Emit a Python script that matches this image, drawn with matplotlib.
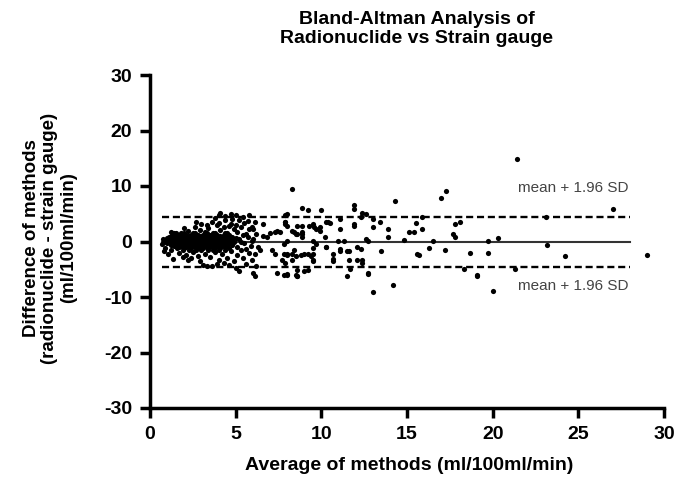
import matplotlib
matplotlib.use('Agg')
import matplotlib.pyplot as plt
import numpy as np

plt.rcParams['font.family'] = ['Liberation Sans', 'DejaVu Sans']
plt.rcParams['axes.unicode_minus'] = False

# dense cluster, rows of (difference, list of averages)
cluster_rows = [
    (1.5, [1.5, 2.0, 2.6, 3.3, 3.8, 4.4]),
    (1.2, [1.3, 1.7, 2.1, 2.4, 2.8, 3.1, 3.5, 3.9, 4.3, 4.6]),
    (1.05, [1.5, 1.9, 2.3, 2.6, 3.0, 3.3, 3.7, 4.1, 4.5]),
    (0.9, [1.1, 1.5, 1.9, 2.2, 2.6, 2.9, 3.3, 3.6, 4.0, 4.4, 4.8]),
    (0.75, [1.2, 1.6, 2.0, 2.4, 2.8, 3.1, 3.4, 3.8, 4.2, 4.6]),
    (0.6, [1.0, 1.4, 1.7, 2.0, 2.3, 2.7, 3.0, 3.2, 3.5, 3.8, 4.1, 4.5, 5.0]),
    (0.45, [1.1, 1.5, 1.8, 2.1, 2.5, 2.9, 3.3, 3.6, 3.9, 4.3, 4.8]),
    (0.3, [0.9, 1.2, 1.6, 1.9, 2.2, 2.5, 2.8, 3.1, 3.4, 3.7, 4.0, 4.3, 4.7]),
    (0.15, [1.0, 1.3, 1.8, 2.1, 2.4, 2.7, 3.0, 3.3, 3.6, 3.9, 4.2, 4.6]),
    (0.0, [0.8, 1.1, 1.4, 1.7, 2.0, 2.3, 2.6, 2.9, 3.2, 3.5, 3.8, 4.1, 4.4, 4.9, 5.3]),
    (-0.15, [1.2, 1.5, 1.8, 2.1, 2.4, 2.7, 3.0, 3.4, 3.7, 4.0, 4.3, 4.7]),
    (-0.3, [1.0, 1.3, 1.6, 1.9, 2.2, 2.5, 2.8, 3.0, 3.3, 3.6, 3.9, 4.2, 4.6]),
    (-0.45, [1.4, 1.7, 2.0, 2.3, 2.6, 2.9, 3.2, 3.5, 3.8, 4.1, 4.5]),
    (-0.6, [1.2, 1.5, 1.8, 2.1, 2.4, 2.7, 3.0, 3.3, 3.6, 3.9, 4.3, 4.8]),
    (-0.75, [1.6, 2.0, 2.3, 2.7, 3.1, 3.4, 3.7, 4.0, 4.4]),
    (-0.9, [1.4, 1.8, 2.2, 2.5, 2.9, 3.2, 3.5, 3.8, 4.2, 4.5]),
    (-1.05, [1.7, 2.1, 2.6, 3.0, 3.3, 3.6, 4.0, 4.4]),
    (-1.2, [1.6, 2.0, 2.4, 2.8, 3.1, 3.4, 3.8, 4.1, 4.6]),
    (-1.5, [1.9, 2.3, 2.7, 3.0, 3.4, 3.7, 4.0, 4.4]),
]

# remaining points (average, difference)
other_points = [
    (1.8, 1.6), (2.2, 1.9), (2.5, 1.5), (2.9, 2.1), (3.2, 1.7), (3.4, 2.4), (3.7, 1.6),
    (3.9, 2.9), (4.1, 2.0), (4.3, 2.6), (4.5, 1.5), (4.7, 3.1), (4.9, 2.2), (5.1, 1.8),
    (5.3, 2.7), (5.5, 3.4), (5.6, 1.4), (5.8, 2.3), (2.6, 2.7), (3.0, 3.2), (3.6, 3.6),
    (4.4, 3.8), (4.8, 4.0), (5.2, 3.9), (2.0, 2.4), (1.4, 1.5), (1.2, 1.8), (3.3, 2.9),
    (4.0, 3.3), (4.6, 2.8), (5.0, 3.0), (5.7, 3.7), (2.7, 3.5), (3.8, 4.2),
    (4.0, 4.8), (4.1, 5.2), (4.4, 4.6), (5.0, 4.8), (5.4, 4.4), (4.7, 5.0), (5.8, 4.7),
    (0.8, -1.8), (1.05, -2.2), (1.35, -3.1), (0.9, -1.2), (1.2, -1.5), (0.7, -0.5),
    (0.75, 0.5), (1.7, -2.0), (2.1, -2.4), (2.5, -1.9), (2.8, -2.6), (3.1, -4.3),
    (3.3, -4.5), (3.6, -4.5), (3.2, -2.2), (3.5, -2.8), (3.8, -1.9), (4.0, -3.3),
    (4.2, -2.3), (4.5, -2.9), (4.7, -1.8), (4.9, -3.6), (5.1, -2.4), (5.3, -1.6),
    (5.4, -3.0), (5.6, -4.0), (5.8, -2.0), (2.4, -3.0), (2.9, -3.5), (3.9, -4.0),
    (4.3, -3.8), (5.0, -4.7), (5.2, -5.3), (4.6, -4.3), (1.9, -2.8), (2.2, -3.4),
    (5.2, 0.4), (5.5, -0.3), (5.7, 0.8), (5.9, -0.8), (5.4, 1.1), (5.1, -1.0),
    (5.6, -1.3), (6.0, 0.5),
    (5.95, 2.7), (6.1, 3.5), (6.0, 2.2), (6.2, 1.4), (5.95, 0.1), (6.3, -1.0),
    (6.4, -1.6), (6.1, -2.2), (5.95, -3.4), (6.2, -4.5), (6.0, -5.7), (6.1, -6.2),
    (6.6, 3.1), (7.0, 1.5), (7.3, 1.7), (7.1, -1.6), (7.3, -2.2), (7.7, -3.4),
    (7.9, -3.9), (7.4, -5.7), (7.8, -6.1), (8.0, -6.1), (8.5, -6.1), (8.6, -6.2),
    (8.0, -2.2), (8.3, -2.2), (8.3, -3.4), (8.8, -2.5), (9.2, -2.2), (9.5, -3.6),
    (9.7, -0.4), (10.3, -1.0), (10.7, -2.2), (11.1, -1.3), (11.6, -1.8), (12.7, 0.1),
    (12.3, -1.3), (12.4, -3.9), (12.7, -5.7), (12.1, -3.4), (8.6, 2.8), (8.9, 1.7),
    (8.9, 1.4), (9.5, 3.1), (9.7, 2.2), (9.9, 2.6), (10.3, 3.6), (11.1, 2.2),
    (11.9, 3.1), (12.3, 4.5), (12.6, 4.9), (7.9, 3.5), (8.0, 4.9),
    (7.9, 3.1), (8.0, 2.8), (7.4, 1.9), (7.6, 1.7), (6.6, 1.0), (6.8, 0.8),
    (8.3, 1.9), (8.5, 1.4), (10.2, 0.8), (10.5, 3.3),
    (8.3, 9.4), (14.3, 7.3), (17.3, 9.1), (17.0, 7.8), (11.9, 6.6), (11.9, 5.9),
    (8.9, 6.1), (9.2, 5.7), (10.0, 5.7), (12.4, 5.2), (21.4, 14.9), (27.0, 5.9),
    (20.3, 0.6), (19.7, 0.1), (23.2, -0.6), (18.7, -2.0), (19.7, -2.0), (24.2, -2.7),
    (29.0, -2.4), (19.1, -6.2), (20.0, -8.9), (18.3, -5.0), (21.3, -5.0), (18.1, 3.6),
    (23.1, 4.4), (13.0, -9.1), (14.2, -7.8), (11.5, -6.2), (12.7, -5.8), (12.4, -3.4),
    (15.6, -2.3), (15.7, -2.5), (17.2, -1.6), (13.5, -1.8), (16.5, 0.1), (16.3, -1.1),
    (14.8, 0.3), (13.9, 0.8), (13.9, 2.2), (15.1, 1.7), (15.4, 1.7), (15.9, 2.2),
    (15.5, 3.3), (17.7, 1.3), (17.8, 0.8), (17.8, 3.1), (15.9, 4.5), (13.0, 4.0),
    (13.0, 2.6), (13.4, 3.6), (11.9, 2.8), (11.1, 4.0), (10.4, 3.5), (9.9, 1.9),
    (9.6, 2.6), (9.3, 2.8), (8.9, 2.8), (8.4, 1.7), (8.6, 1.4), (8.9, 0.8),
    (7.9, 3.6), (7.9, 4.7), (7.8, -0.4), (8.0, 0.1), (9.5, 0.1), (11.0, 0.1),
    (11.3, 0.1), (12.1, -1.0), (12.6, 0.5), (10.3, -1.0), (11.1, -1.8), (11.5, -1.8),
    (10.7, -3.1), (10.7, -3.6), (11.6, -3.3), (9.5, -2.2), (9.5, -1.1), (9.4, -2.7),
    (9.5, -3.4), (9.0, -2.2), (8.4, -1.6), (8.5, -2.7), (7.8, -2.2), (8.0, -2.5),
    (8.6, -5.1), (9.2, -5.1), (9.0, -5.4), (8.0, -5.8), (8.6, -6.2), (11.7, -4.9),
    (19.1, -6.0),
]

mean_diff = -0.1
upper_loa = 4.5
lower_loa = -4.6
line_start, line_end = 0.7, 28.0

avg = []
diff = []
for d, xs in cluster_rows:
    for x in xs:
        avg.append(x)
        diff.append(d)
for x, d in other_points:
    avg.append(x)
    diff.append(d)

W, H = 682, 497
fig = plt.figure(figsize=(6.82, 4.97), dpi=100)
ax = fig.add_axes([150 / W, 1 - 408 / H, 514 / W, 333 / H])

ax.scatter(avg, diff, s=14, c='black', linewidths=0, zorder=3)
ax.plot([line_start, line_end], [mean_diff, mean_diff], color='#333333', lw=1.5, zorder=2)
for v in (upper_loa, lower_loa):
    ax.plot([line_start, line_end], [v, v], color='black', lw=1.7,
            dashes=(3, 1.6), zorder=2)

ax.text(21.5, 9.6, 'mean + 1.96 SD', color='#444444', fontsize=11, va='center')
ax.text(21.5, -8.0, 'mean + 1.96 SD', color='#444444', fontsize=11, va='center')

ax.set_xlim(0, 30)
ax.set_ylim(-30, 30)
ax.set_xticks(np.arange(0, 31, 5))
ax.set_yticks(np.arange(-30, 31, 10))
for s in ('top', 'right'):
    ax.spines[s].set_visible(False)
for s in ('left', 'bottom'):
    ax.spines[s].set_linewidth(2.5)
ax.tick_params(width=2.5, length=7, labelsize=14, direction='out')
ax.tick_params(axis='x', pad=6)
ax.tick_params(axis='y', pad=6)
for lab in ax.get_xticklabels() + ax.get_yticklabels():
    lab.set_fontweight('bold')

fig.text(409 / W, 1 - 466 / H, 'Average of methods (ml/100ml/min)', fontsize=14,
         fontweight='bold', ha='center', va='center')
fig.text(50 / W, 1 - 238 / H,
         'Difference of methods\n(radionuclide - strain gauge)\n(ml/100ml/min)',
         fontsize=13.5, fontweight='bold', ha='center', va='center', rotation=90,
         multialignment='center', linespacing=1.1)
fig.text(417 / W, 1 - 29 / H, 'Bland-Altman Analysis of\nRadionuclide vs Strain gauge',
         fontsize=14, fontweight='bold', ha='center', va='center',
         multialignment='center', linespacing=1.1)

fig.savefig('out.png', dpi=100)
